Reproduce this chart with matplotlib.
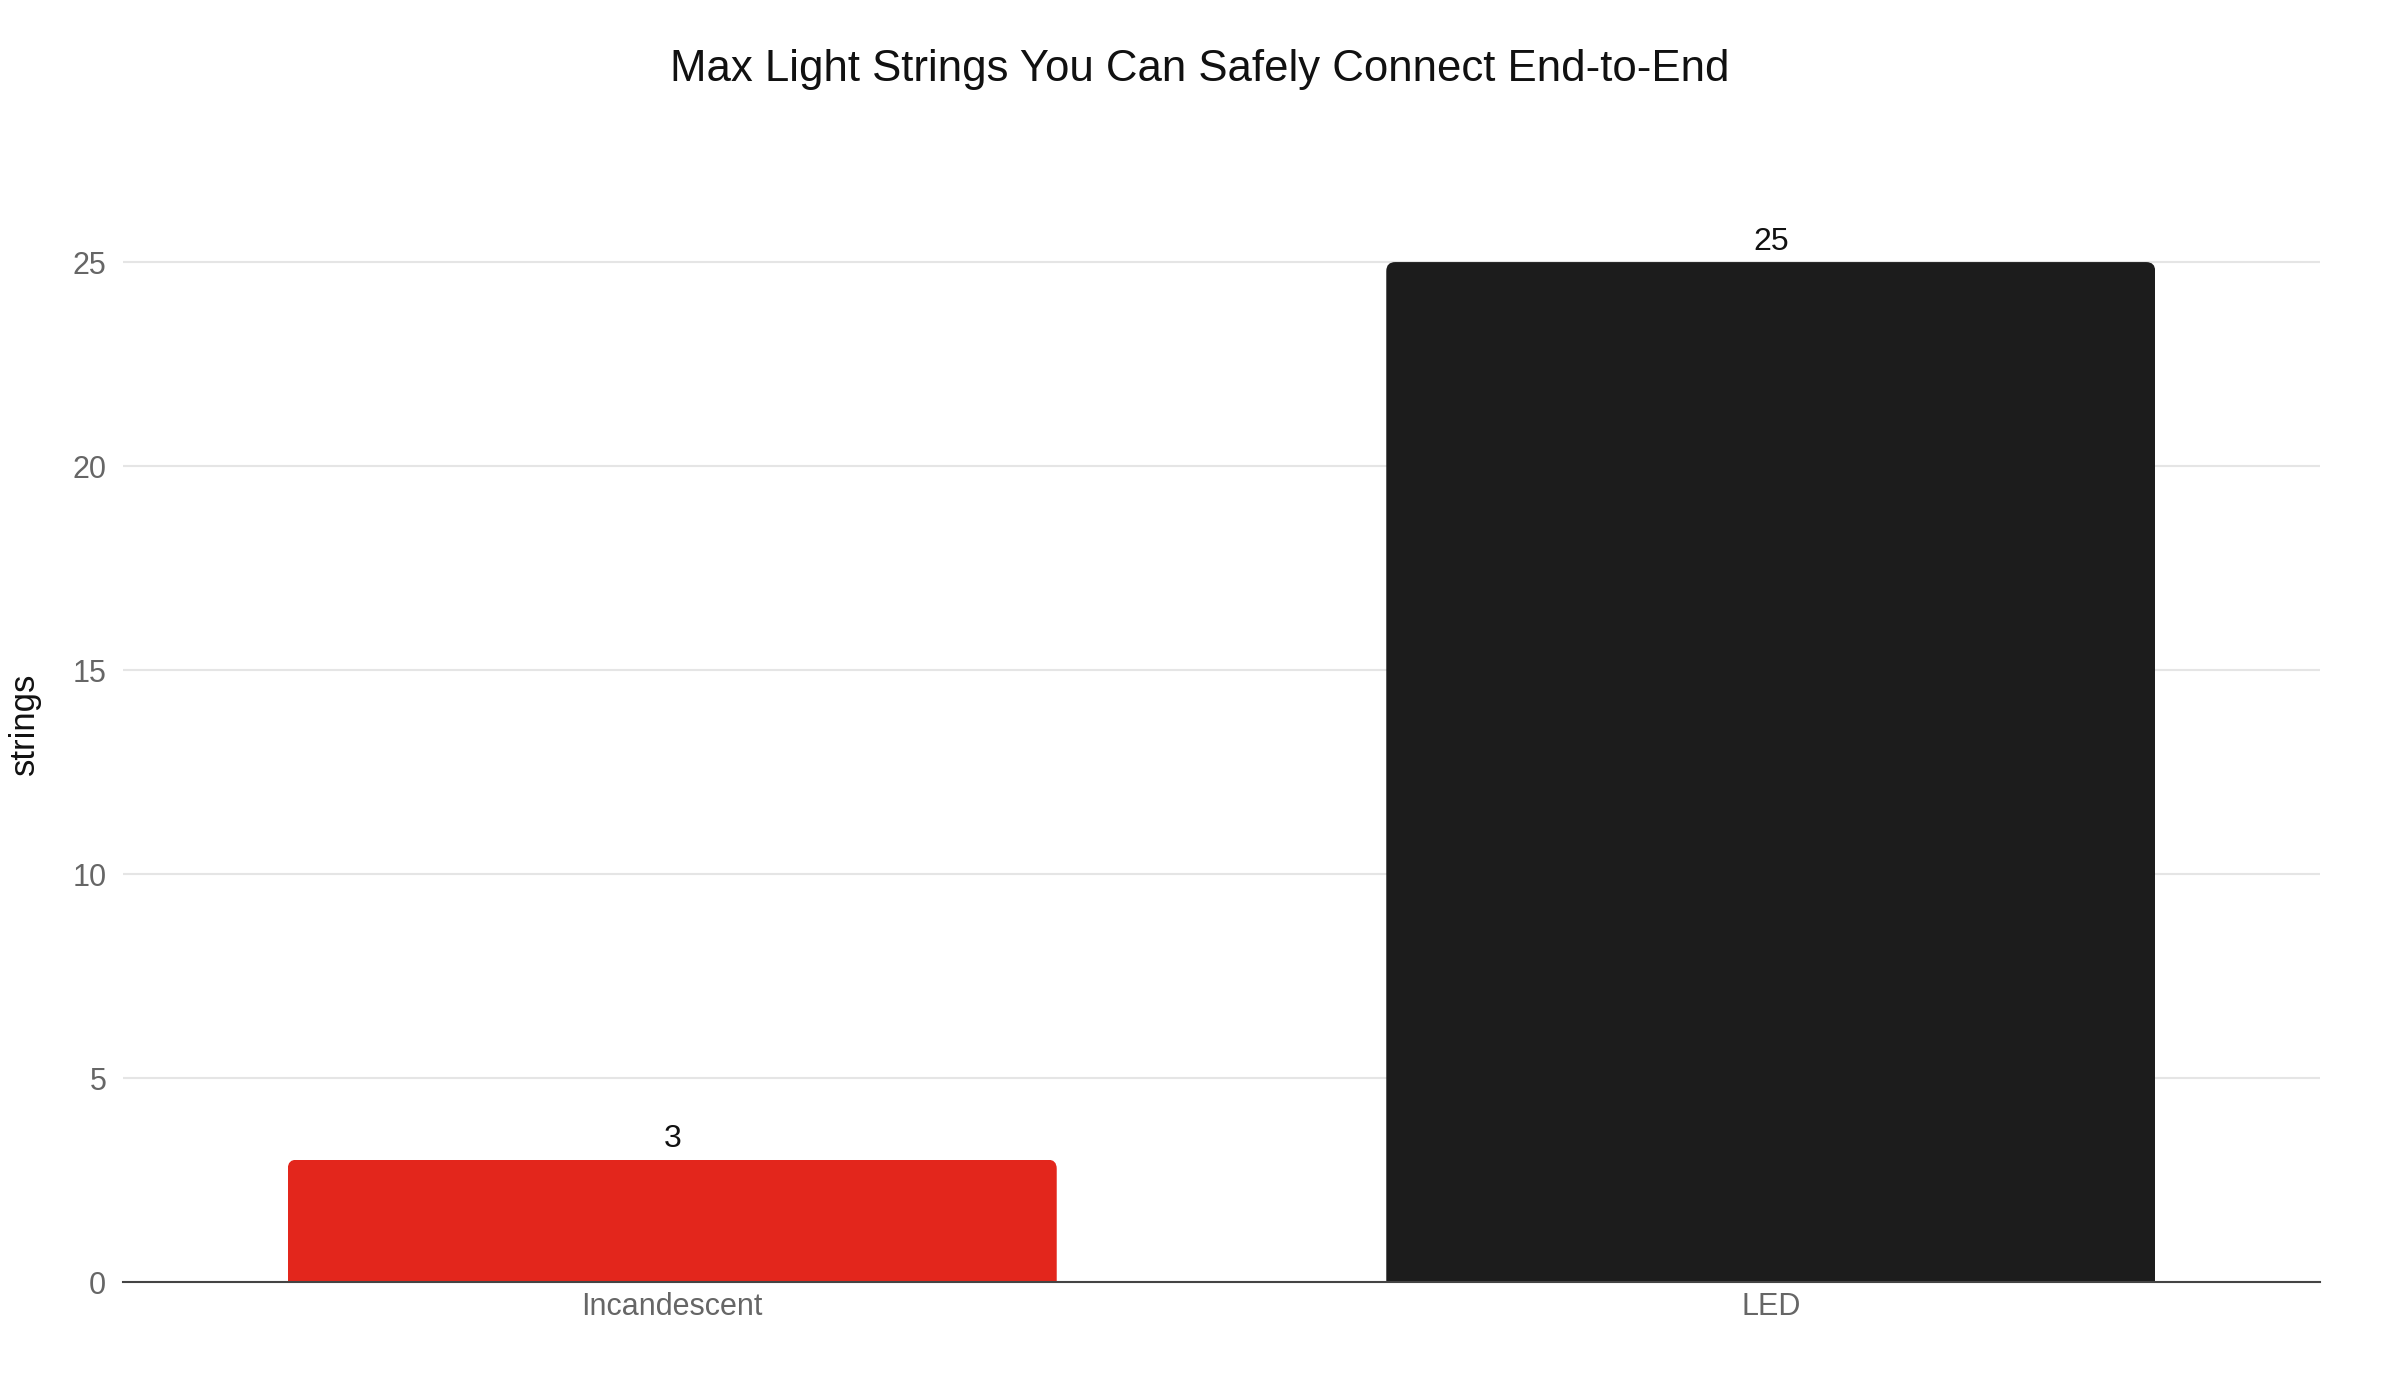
import matplotlib
matplotlib.use("Agg")
import matplotlib.pyplot as plt
from matplotlib.patches import FancyBboxPatch

plt.rcParams['font.family'] = ['Liberation Sans', 'DejaVu Sans']

# data
bulb_types = ["Incandescent", "LED"]
max_strings = [3, 25]
bar_colors = ["#E3261C", "#1C1C1C"]
y_ticks = [0, 5, 10, 15, 20, 25]

fig = plt.figure(figsize=(24, 14), dpi=100)
ax = fig.add_axes([123 / 2400, 1 - 1282 / 1400, (2320 - 123) / 2400, (1282 - 207) / 1400])

ax.set_xlim(-0.5, 1.5)
ax.set_ylim(0, 26.35)

x = range(len(bulb_types))
bars = ax.bar(x, max_strings, width=0.7, color=bar_colors, zorder=3)

# rounded top corners: clip each bar with a rounded box that runs below zero
bbox = ax.get_position()
px_x = 2.0 / (bbox.width * 2400)
px_y = 26.35 / (bbox.height * 1400)
r = 9 * px_x
for b in bars:
    clip = FancyBboxPatch((b.get_x(), -2), b.get_width(), b.get_height() + 2,
                          boxstyle=f"round,pad=0,rounding_size={r}",
                          mutation_aspect=px_y / px_x, transform=ax.transData,
                          facecolor="none", edgecolor="none")
    ax.add_patch(clip)
    b.set_clip_path(clip)

for b, v in zip(bars, max_strings):
    ax.annotate(str(v), (b.get_x() + b.get_width() / 2, v), xytext=(0, 4),
                textcoords="offset points", ha="center", va="bottom",
                fontsize=23, color="#111111")

ax.set_xticks(list(x))
ax.set_xticklabels(bulb_types)
ax.set_yticks(y_ticks)
ax.tick_params(axis="both", length=0, labelsize=22, labelcolor="#666666")
ax.tick_params(axis="x", pad=7)
ax.tick_params(axis="y", pad=12)

ax.grid(axis="y", color="#E5E5E5", linewidth=1.5, zorder=0)
for s in ["top", "right", "left"]:
    ax.spines[s].set_visible(False)
ax.spines["bottom"].set_color("#444444")
ax.spines["bottom"].set_linewidth(1.5)
ax.spines["bottom"].set_zorder(4)

fig.text(24 / 2400, 1 - 724 / 1400, "strings", rotation=90, ha="center", va="center",
         fontsize=25, color="#111111")
fig.text(0.5, 1 - 69 / 1400, "Max Light Strings You Can Safely Connect End-to-End",
         ha="center", va="center", fontsize=31.5, color="#111111")

fig.savefig("out.png", dpi=100, facecolor="white")
